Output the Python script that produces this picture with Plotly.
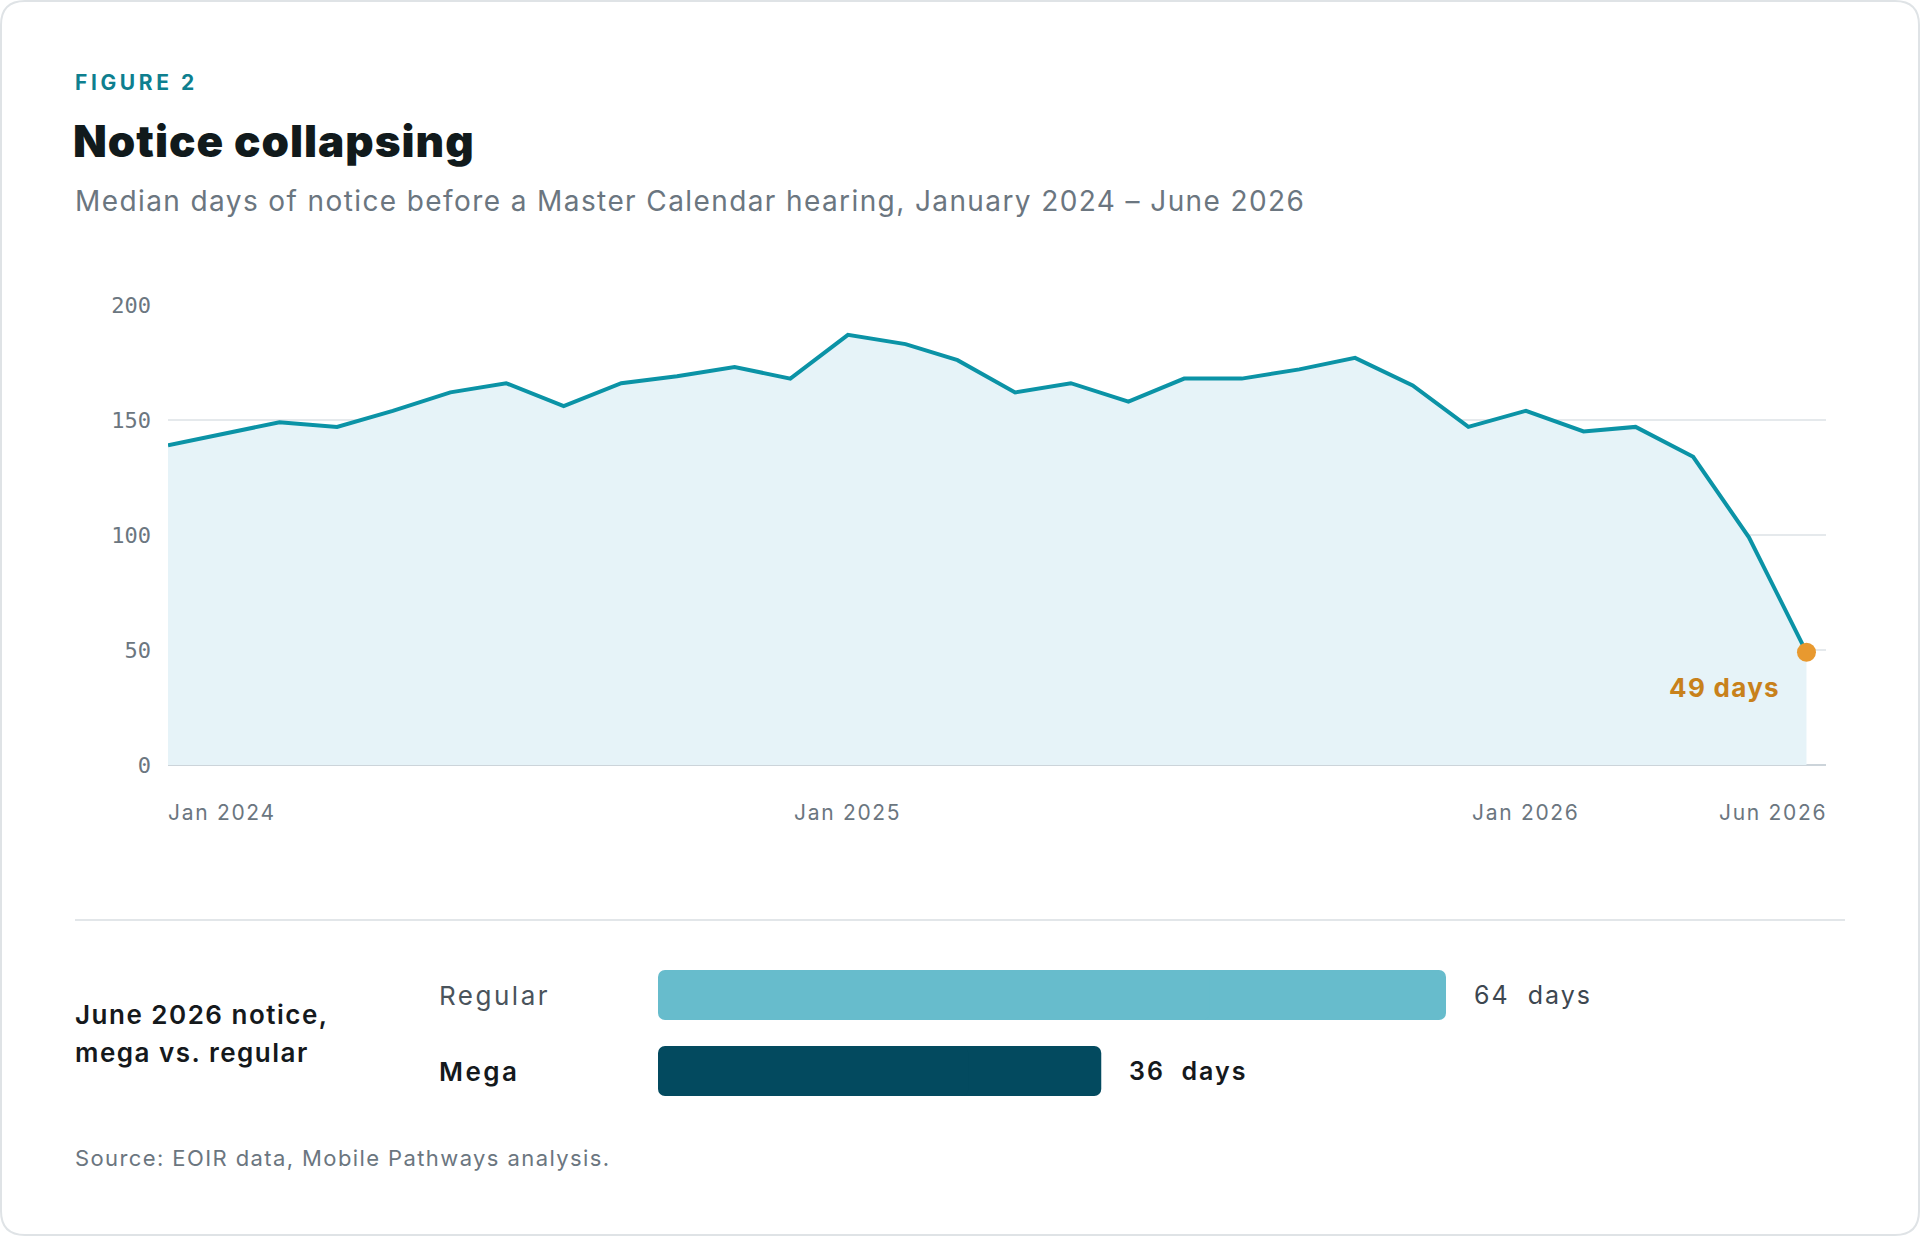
import plotly.graph_objects as go

# Median days of notice, Jan 2024 - Jun 2026
months = ["2024-01-01", "2024-02-01", "2024-03-01", "2024-04-01", "2024-05-01", "2024-06-01",
          "2024-07-01", "2024-08-01", "2024-09-01", "2024-10-01", "2024-11-01", "2024-12-01",
          "2025-01-01", "2025-02-01", "2025-03-01", "2025-04-01", "2025-05-01", "2025-06-01",
          "2025-07-01", "2025-08-01", "2025-09-01", "2025-10-01", "2025-11-01", "2025-12-01",
          "2026-01-01", "2026-02-01", "2026-03-01", "2026-04-01", "2026-05-01", "2026-06-01"]
median_days = [139, 144, 149, 147, 154, 162, 166, 156, 166, 169, 173, 168,
               187, 183, 176, 162, 166, 158, 168, 168, 172, 177, 165, 147,
               154, 145, 147, 134, 99, 49]

tick_dates = ["2024-01-01", "2025-01-01", "2026-01-01", "2026-06-01"]
tick_labels = ["Jan 2024", "Jan 2025", "Jan 2026", "Jun 2026"]
y_ticks = [0, 50, 100, 150, 200]

# June 2026 split
groups = ["Regular", "Mega"]
group_days = [64, 36]
group_colors = ["#67bccc", "#034a5f"]

W, H = 1920, 1236
BAR_MAX = 64  # x range of the bar panel
SANS = "Inter, 'Open Sans', sans-serif"
MONO = "'DejaVu Sans Mono', monospace"
TEAL = "#0b93a6"
GREY = "#6b7680"
LEFT = 73


def px_x(v):
    return v / W


def px_y(v):
    return 1 - v / H


def spaced(text, ls):
    # letter-spacing to get closer to the wide geometric face of the original
    return "<span style='letter-spacing:%.1fpx'>%s</span>" % (ls, text)


fig = go.Figure()

# area + line
fig.add_trace(go.Scatter(x=months, y=median_days, mode="lines",
                         line=dict(color=TEAL, width=4),
                         fill="tozeroy", fillcolor="#e6f3f8",
                         hoverinfo="x+y", xaxis="x", yaxis="y"))

# last point highlight
fig.add_trace(go.Scatter(x=[months[-1]], y=[median_days[-1]], mode="markers",
                         marker=dict(color="#e8992f", size=19),
                         hoverinfo="x+y", xaxis="x", yaxis="y"))

# June 2026 bars, each drawn as two overlapping pieces so both ends are rounded:
# one growing right to the value, one growing left to zero
fig.add_trace(go.Bar(x=[v * 0.7 for v in group_days], y=groups,
                     base=[v * 0.3 for v in group_days], orientation="h",
                     marker=dict(color=group_colors, line=dict(width=0)),
                     hoverinfo="skip", xaxis="x2", yaxis="y2"))
fig.add_trace(go.Bar(x=[-v * 0.7 for v in group_days], y=groups,
                     base=[v * 0.7 for v in group_days], orientation="h",
                     marker=dict(color=group_colors, line=dict(width=0)),
                     hoverinfo="skip", xaxis="x2", yaxis="y2"))

annotations = []

# header texts
annotations.append(dict(xref="paper", yref="paper", x=px_x(LEFT), y=px_y(82),
                        text=spaced("FIGURE 2", 3.6),
                        showarrow=False, xanchor="left", yanchor="middle",
                        font=dict(family=SANS, size=21, color="#0e7f8f", weight=700)))
annotations.append(dict(xref="paper", yref="paper", x=px_x(LEFT - 2), y=px_y(141),
                        text=spaced("Notice collapsing", 1.0), showarrow=False,
                        xanchor="left", yanchor="middle",
                        font=dict(family=SANS, size=44, color="#111a1c", weight=900)))
annotations.append(dict(xref="paper", yref="paper", x=px_x(LEFT), y=px_y(201),
                        text=spaced("Median days of notice before a Master Calendar hearing, "
                                    "January 2024 \u2013 June 2026", 1.45),
                        showarrow=False, xanchor="left", yanchor="middle",
                        font=dict(family=SANS, size=28, color=GREY, weight=400)))

# x tick labels (first left-aligned, last right-aligned)
for i, (d, lab) in enumerate(zip(tick_dates, tick_labels)):
    if i == 0:
        anchor, shift = "left", -2
    elif i == len(tick_dates) - 1:
        anchor, shift = "right", 23
    else:
        anchor, shift = "center", 0
    annotations.append(dict(xref="x", yref="paper", x=d, y=px_y(812),
                            text=spaced(lab, 1.7), showarrow=False,
                            xanchor=anchor, yanchor="middle", xshift=shift,
                            font=dict(family=SANS, size=21, color=GREY)))

# end label
annotations.append(dict(xref="x", yref="y", x=months[-1], y=median_days[-1],
                        text=spaced("%d days" % median_days[-1], 1.3), showarrow=False,
                        xanchor="right", yanchor="middle", xshift=-24, yshift=-35,
                        font=dict(family=SANS, size=26, color="#c8811b", weight=700)))

# bottom panel texts
for txt, yy in zip(["June 2026 notice,", "mega vs. regular"], [1014, 1052]):
    annotations.append(dict(xref="paper", yref="paper", x=px_x(LEFT), y=px_y(yy),
                            text=spaced(txt, 1.5), showarrow=False,
                            xanchor="left", yanchor="middle",
                            font=dict(family=SANS, size=26, color="#15191c", weight=600)))

for g, v in zip(groups, group_days):
    bold = g == "Mega"
    annotations.append(dict(xref="paper", yref="y2", x=px_x(437), y=g,
                            text=spaced(g, 2.5), showarrow=False,
                            xanchor="left", yanchor="middle",
                            font=dict(family=SANS, size=26,
                                      color="#15191c" if bold else "#4a545c",
                                      weight=600 if bold else 400)))
    annotations.append(dict(xref="x2", yref="y2", x=v, y=g,
                            text=spaced("%d\u00a0 days" % v, 2.0),
                            showarrow=False, xanchor="left", yanchor="middle", xshift=26,
                            font=dict(family=SANS, size=25,
                                      color="#15191c" if bold else "#3d4750",
                                      weight=600 if bold else 400)))

annotations.append(dict(xref="paper", yref="paper", x=px_x(LEFT), y=px_y(1158),
                        text=spaced("Source: EOIR data, Mobile Pathways analysis.", 1.35),
                        showarrow=False, xanchor="left", yanchor="middle",
                        font=dict(family=SANS, size=22, color=GREY)))

# card border with rounded corners + separator
r = 24
x0, y0, x1, y1 = 1, 1, W - 1, H - 1
card = ("M {a},{b} L {c},{b} Q {d},{b} {d},{e} L {d},{f} Q {d},{g} {c},{g} "
        "L {a},{g} Q {h},{g} {h},{f} L {h},{e} Q {h},{b} {a},{b} Z").format(
    a=px_x(x0 + r), b=px_y(y0), c=px_x(x1 - r), d=px_x(x1), e=px_y(y0 + r),
    f=px_y(y1 - r), g=px_y(y1), h=px_x(x0))

shapes = [
    dict(type="path", xref="paper", yref="paper", path=card,
         line=dict(color="#dfe3e6", width=2), fillcolor="rgba(0,0,0,0)", layer="above"),
    dict(type="line", xref="paper", yref="paper", x0=px_x(75), x1=px_x(1845),
         y0=px_y(920), y1=px_y(920), line=dict(color="#e2e6e9", width=2)),
]

fig.update_layout(
    width=W, height=H,
    margin=dict(l=0, r=0, t=0, b=0, pad=0, autoexpand=False),
    paper_bgcolor="white", plot_bgcolor="white",
    showlegend=False,
    barmode="overlay",
    barcornerradius=7,
    bargap=26 / 76,
    annotations=annotations,
    shapes=shapes,
    xaxis=dict(domain=[px_x(168), px_x(1826)], type="date",
               range=["2024-01-01", "2026-06-11 12:00"],
               showgrid=False, showticklabels=False, zeroline=False,
               showline=False, fixedrange=True, automargin=False),
    yaxis=dict(domain=[px_y(765), px_y(305)], range=[0, 200],
               tickvals=y_ticks, ticks="", ticklabelstandoff=16,
               tickfont=dict(family=MONO, size=22, color=GREY),
               showgrid=True, gridcolor="#e5e9ec", gridwidth=1.5,
               zeroline=True, zerolinecolor="#ccd4da", zerolinewidth=2,
               showline=False, fixedrange=True, automargin=False),
    xaxis2=dict(domain=[px_x(658), px_x(1446)], range=[0, BAR_MAX], anchor="y2",
                visible=False, fixedrange=True, automargin=False),
    yaxis2=dict(domain=[px_y(1109), px_y(957)], anchor="x2",
                categoryorder="array", categoryarray=groups[::-1],
                visible=False, fixedrange=True, automargin=False),
)

fig.write_html("out.html", config={"displayModeBar": False},
               post_script="document.body.style.margin='0';"
                           "document.body.style.overflow='hidden';")
